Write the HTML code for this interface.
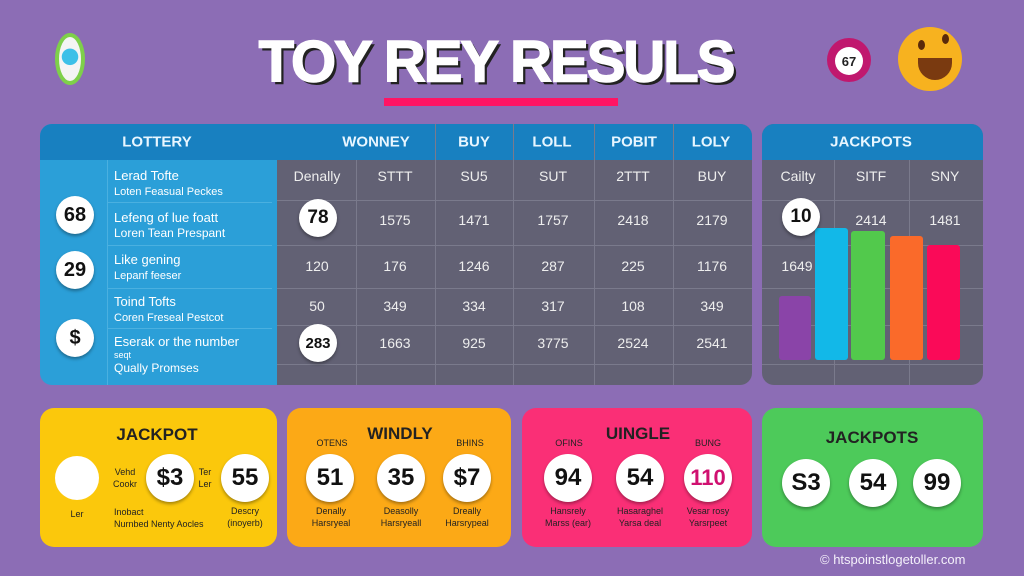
<!DOCTYPE html>
<html><head><meta charset="utf-8"><style>
*{margin:0;padding:0;box-sizing:border-box}
body{width:1024px;height:576px;background:#8c6db5;position:relative;overflow:hidden;font-family:"Liberation Sans",sans-serif}
.a{position:absolute}
.t{position:absolute;transform:translate(-50%,-50%);white-space:nowrap}
.ball{position:absolute;border-radius:50%;background:#fff;color:#111;font-weight:bold;display:flex;align-items:center;justify-content:center;box-shadow:0 2px 3px rgba(0,0,0,.35)}
.hd{color:#e8f6ff;font-weight:bold;font-size:15px}
.cell{color:#eee;font-size:14px}
.sm{font-size:9px;color:#222;text-align:center;line-height:12px}
</style></head><body>
<!-- icons -->
<div class="a" style="left:55px;top:33px;width:30px;height:52px;border-radius:50%;background:radial-gradient(circle at 50% 45%,#3cc0e8 0 30%,#f4f4f4 32%);border:4px solid #7ed04a"></div>
<div class="a" style="left:827px;top:38px;width:44px;height:44px;border-radius:50%;background:#c0186e"></div>
<div class="a" style="left:835px;top:47px;width:28px;height:28px;border-radius:50%;background:#fff;font-size:13px;font-weight:bold;color:#222;display:flex;align-items:center;justify-content:center">67</div>
<div class="a" style="left:898px;top:27px;width:64px;height:64px;border-radius:50%;background:#f7b21f"></div>
<div class="a" style="left:918px;top:58px;width:34px;height:22px;border-radius:0 0 18px 18px;background:#7a3a10"></div>
<div class="a" style="left:918px;top:40px;width:7px;height:10px;border-radius:50%;background:#5a2a0a"></div>
<div class="a" style="left:942px;top:34px;width:7px;height:10px;border-radius:50%;background:#5a2a0a"></div>
<!-- title -->
<div class="t" style="left:496px;top:62px;font-size:58px;font-weight:900;color:#fff;letter-spacing:-2px;-webkit-text-stroke:1.5px #fff;text-shadow:3px 3px 0 #222">TOY REY RESULS</div>
<div class="a" style="left:384px;top:98px;width:234px;height:8px;background:#ff1464"></div>

<!-- left panel -->
<div class="a" style="left:40px;top:124px;width:237px;height:261px;background:#2b9fd8;border-radius:12px 0 0 12px"></div>
<div class="a" style="left:40px;top:124px;width:237px;height:36px;background:#1880c0;border-radius:12px 0 0 0"></div>
<div class="t hd" style="left:157px;top:142px">LOTTERY</div>
<div class="a" style="left:107px;top:160px;width:1px;height:225px;background:#4ab0e0"></div>
<div class="a" style="left:107px;top:202px;width:165px;height:1px;background:#4ab0e0"></div>
<div class="a" style="left:107px;top:245px;width:165px;height:1px;background:#4ab0e0"></div>
<div class="a" style="left:107px;top:288px;width:165px;height:1px;background:#4ab0e0"></div>
<div class="a" style="left:107px;top:328px;width:165px;height:1px;background:#4ab0e0"></div>
<div class="a" style="left:114px;top:168px;color:#fff;font-size:13px;line-height:15px">Lerad Tofte<br><span style="font-size:11px">Loten Feasual Peckes</span></div>
<div class="a" style="left:114px;top:210px;color:#fff;font-size:13px;line-height:15px">Lefeng of lue foatt<br><span style="font-size:12px">Loren Tean Prespant</span></div>
<div class="a" style="left:114px;top:252px;color:#fff;font-size:13px;line-height:15px">Like gening<br><span style="font-size:11px">Lepanf feeser</span></div>
<div class="a" style="left:114px;top:294px;color:#fff;font-size:13px;line-height:15px">Toind Tofts<br><span style="font-size:11px">Coren Freseal Pestcot</span></div>
<div class="a" style="left:114px;top:336px;color:#fff;font-size:13px;line-height:12px">Eserak or the number<br><span style="font-size:9px">seqt</span><br><span style="font-size:12px;line-height:14px">Qually Promses</span></div>
<div class="ball" style="left:56px;top:196px;width:38px;height:38px;font-size:20px">68</div>
<div class="ball" style="left:56px;top:251px;width:38px;height:38px;font-size:20px">29</div>
<div class="ball" style="left:56px;top:319px;width:38px;height:38px;font-size:20px">$</div>

<!-- middle table -->
<div class="a" style="left:277px;top:124px;width:475px;height:261px;background:#626174;border-radius:0 12px 12px 0"></div>
<div class="a" style="left:277px;top:124px;width:475px;height:36px;background:#1880c0;border-radius:0 12px 0 0"></div>
<div class="a" style="left:356px;top:160px;width:1px;height:225px;background:#7a7a8c"></div>
<div class="a" style="left:435px;top:124px;width:1px;height:261px;background:#7a7a8c"></div>
<div class="a" style="left:513px;top:124px;width:1px;height:261px;background:#7a7a8c"></div>
<div class="a" style="left:594px;top:124px;width:1px;height:261px;background:#7a7a8c"></div>
<div class="a" style="left:673px;top:124px;width:1px;height:261px;background:#7a7a8c"></div>
<div class="a" style="left:277px;top:200px;width:475px;height:1px;background:#7a7a8c"></div>
<div class="a" style="left:277px;top:245px;width:475px;height:1px;background:#7a7a8c"></div>
<div class="a" style="left:277px;top:288px;width:475px;height:1px;background:#7a7a8c"></div>
<div class="a" style="left:277px;top:325px;width:475px;height:1px;background:#7a7a8c"></div>
<div class="a" style="left:277px;top:364px;width:475px;height:1px;background:#7a7a8c"></div>
<div class="t hd" style="left:376px;top:142px">WONNEY</div>
<div class="t hd" style="left:474px;top:142px">BUY</div>
<div class="t hd" style="left:552px;top:142px">LOLL</div>
<div class="t hd" style="left:634px;top:142px">POBIT</div>
<div class="t hd" style="left:711px;top:142px">LOLY</div>

<div class="t cell" style="left:317px;top:176px">Denally</div>
<div class="t cell" style="left:395px;top:176px">STTT</div>
<div class="t cell" style="left:474px;top:176px">SU5</div>
<div class="t cell" style="left:553px;top:176px">SUT</div>
<div class="t cell" style="left:633px;top:176px">2TTT</div>
<div class="t cell" style="left:712px;top:176px">BUY</div>

<div class="ball" style="left:299px;top:199px;width:38px;height:38px;font-size:19px">78</div>
<div class="t cell" style="left:395px;top:220px">1575</div>
<div class="t cell" style="left:474px;top:220px">1471</div>
<div class="t cell" style="left:553px;top:220px">1757</div>
<div class="t cell" style="left:633px;top:220px">2418</div>
<div class="t cell" style="left:712px;top:220px">2179</div>

<div class="t cell" style="left:317px;top:266px">120</div>
<div class="t cell" style="left:395px;top:266px">176</div>
<div class="t cell" style="left:474px;top:266px">1246</div>
<div class="t cell" style="left:553px;top:266px">287</div>
<div class="t cell" style="left:633px;top:266px">225</div>
<div class="t cell" style="left:712px;top:266px">1176</div>

<div class="t cell" style="left:317px;top:306px">50</div>
<div class="t cell" style="left:395px;top:306px">349</div>
<div class="t cell" style="left:474px;top:306px">334</div>
<div class="t cell" style="left:553px;top:306px">317</div>
<div class="t cell" style="left:633px;top:306px">108</div>
<div class="t cell" style="left:712px;top:306px">349</div>

<div class="ball" style="left:299px;top:324px;width:38px;height:38px;font-size:15px">283</div>
<div class="t cell" style="left:395px;top:343px">1663</div>
<div class="t cell" style="left:474px;top:343px">925</div>
<div class="t cell" style="left:553px;top:343px">3775</div>
<div class="t cell" style="left:633px;top:343px">2524</div>
<div class="t cell" style="left:712px;top:343px">2541</div>

<!-- right panel -->
<div class="a" style="left:762px;top:124px;width:221px;height:261px;background:#626174;border-radius:12px"></div>
<div class="a" style="left:762px;top:124px;width:221px;height:36px;background:#1880c0;border-radius:12px 12px 0 0"></div>
<div class="a" style="left:834px;top:160px;width:1px;height:225px;background:#7a7a8c"></div>
<div class="a" style="left:909px;top:160px;width:1px;height:225px;background:#7a7a8c"></div>
<div class="a" style="left:762px;top:200px;width:221px;height:1px;background:#7a7a8c"></div>
<div class="a" style="left:762px;top:245px;width:221px;height:1px;background:#7a7a8c"></div>
<div class="a" style="left:762px;top:288px;width:221px;height:1px;background:#7a7a8c"></div>
<div class="a" style="left:762px;top:325px;width:221px;height:1px;background:#7a7a8c"></div>
<div class="a" style="left:762px;top:364px;width:221px;height:1px;background:#7a7a8c"></div>
<div class="t hd" style="left:871px;top:142px">JACKPOTS</div>
<div class="t cell" style="left:798px;top:176px">Cailty</div>
<div class="t cell" style="left:871px;top:176px">SITF</div>
<div class="t cell" style="left:945px;top:176px">SNY</div>
<div class="t cell" style="left:871px;top:220px">2414</div>
<div class="t cell" style="left:945px;top:220px">1481</div>
<div class="t cell" style="left:797px;top:266px">1649</div>
<div class="a" style="left:779px;top:296px;width:32px;height:64px;background:#8a44a8;border-radius:3px"></div>
<div class="a" style="left:815px;top:228px;width:33px;height:132px;background:#12b8e8;border-radius:3px"></div>
<div class="a" style="left:851px;top:231px;width:34px;height:129px;background:#52c94c;border-radius:3px"></div>
<div class="a" style="left:890px;top:236px;width:33px;height:124px;background:#fa6a2a;border-radius:3px"></div>
<div class="a" style="left:927px;top:245px;width:33px;height:115px;background:#fa0a58;border-radius:3px"></div>
<div class="ball" style="left:782px;top:198px;width:38px;height:38px;font-size:19px">10</div>

<!-- bottom cards -->
<div class="a" style="left:40px;top:408px;width:237px;height:139px;background:#fbc80c;border-radius:14px"></div>
<div class="t" style="left:157px;top:435px;font-size:17px;font-weight:bold;color:#222">JACKPOT</div>
<div class="a" style="left:55px;top:456px;width:44px;height:44px;border-radius:50%;background:#fff"></div>
<div class="t sm" style="left:77px;top:514px">Ler</div>
<div class="t sm" style="left:125px;top:478px">Vehd<br>Cookr</div>
<div class="ball" style="left:146px;top:454px;width:48px;height:48px;font-size:24px">$3</div>
<div class="t sm" style="left:205px;top:478px">Ter<br>Ler</div>
<div class="ball" style="left:221px;top:454px;width:48px;height:48px;font-size:24px">55</div>
<div class="a sm" style="left:114px;top:506px;text-align:left">Inobact<br>Nurnbed Nenty Aocles</div>
<div class="t sm" style="left:245px;top:517px">Descry<br>(inoyerb)</div>

<div class="a" style="left:287px;top:408px;width:224px;height:139px;background:#fca916;border-radius:14px"></div>
<div class="t" style="left:400px;top:434px;font-size:17px;font-weight:bold;color:#222">WINDLY</div>
<div class="t sm" style="left:332px;top:443px">OTENS</div>
<div class="t sm" style="left:470px;top:443px">BHINS</div>
<div class="ball" style="left:306px;top:454px;width:48px;height:48px;font-size:24px">51</div>
<div class="ball" style="left:377px;top:454px;width:48px;height:48px;font-size:24px">35</div>
<div class="ball" style="left:443px;top:454px;width:48px;height:48px;font-size:24px">$7</div>
<div class="t sm" style="left:331px;top:517px">Denally<br>Harsryeal</div>
<div class="t sm" style="left:401px;top:517px">Deasolly<br>Harsryeall</div>
<div class="t sm" style="left:467px;top:517px">Dreally<br>Harsrypeal</div>

<div class="a" style="left:522px;top:408px;width:230px;height:139px;background:#fa2f76;border-radius:14px"></div>
<div class="t" style="left:638px;top:434px;font-size:17px;font-weight:bold;color:#222">UINGLE</div>
<div class="t sm" style="left:569px;top:443px">OFINS</div>
<div class="t sm" style="left:708px;top:443px">BUNG</div>
<div class="ball" style="left:544px;top:454px;width:48px;height:48px;font-size:24px">94</div>
<div class="ball" style="left:616px;top:454px;width:48px;height:48px;font-size:24px">54</div>
<div class="ball" style="left:684px;top:454px;width:48px;height:48px;font-size:22px;color:#d01070">110</div>
<div class="t sm" style="left:568px;top:517px">Hansrely<br>Marss (ear)</div>
<div class="t sm" style="left:640px;top:517px">Hasaraghel<br>Yarsa deal</div>
<div class="t sm" style="left:708px;top:517px">Vesar rosy<br>Yarsrpeet</div>

<div class="a" style="left:762px;top:408px;width:221px;height:139px;background:#4dca5a;border-radius:14px"></div>
<div class="t" style="left:872px;top:438px;font-size:17px;font-weight:bold;color:#222">JACKPOTS</div>
<div class="ball" style="left:782px;top:459px;width:48px;height:48px;font-size:24px">S3</div>
<div class="ball" style="left:849px;top:459px;width:48px;height:48px;font-size:24px">54</div>
<div class="ball" style="left:913px;top:459px;width:48px;height:48px;font-size:24px">99</div>

<div class="a" style="left:820px;top:552px;color:#f4f0fa;font-size:13px">© htspoinstlogetoller.com</div>
</body></html>
